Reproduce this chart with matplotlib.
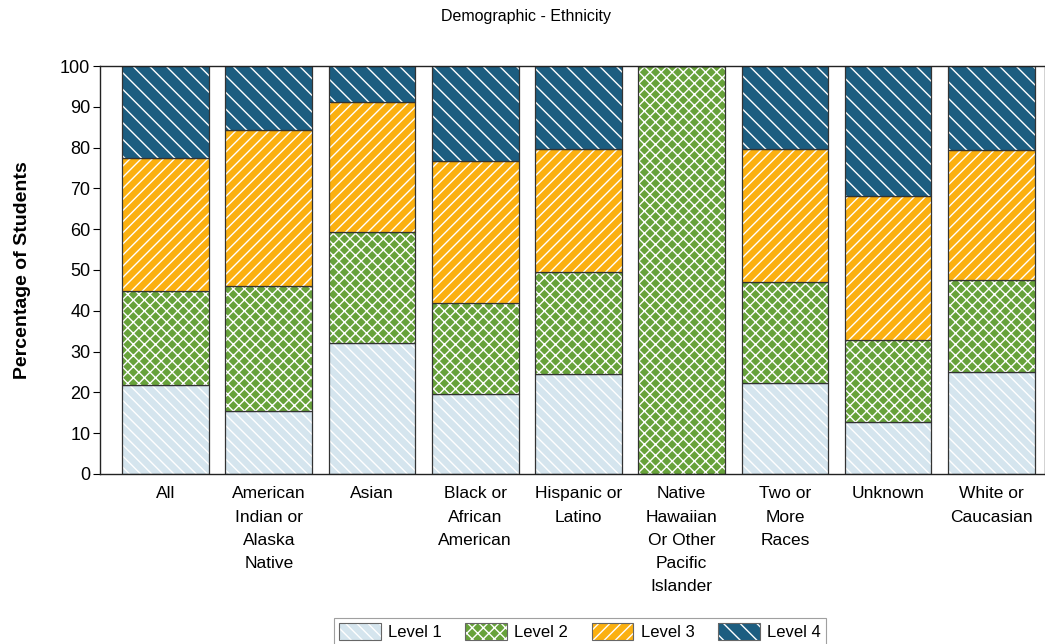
import matplotlib.pyplot as plt
from matplotlib.patches import Patch
from matplotlib.legend_handler import HandlerTuple
import numpy as np

plt.rcParams['font.family'] = ['Liberation Sans', 'DejaVu Sans']
plt.rcParams['hatch.linewidth'] = 1.0

# Datos (porcentaje de estudiantes por nivel)
categorias = ['All', 'American\nIndian or\nAlaska\nNative', 'Asian',
              'Black or\nAfrican\nAmerican', 'Hispanic or\nLatino',
              'Native\nHawaiian\nOr Other\nPacific\nIslander',
              'Two or\nMore\nRaces', 'Unknown', 'White or\nCaucasian']
nivel_1 = [21.8, 15.4, 32.1, 19.6, 24.5, 0.0, 22.3, 12.7, 25.0]
nivel_2 = [23.1, 30.7, 27.3, 22.3, 25.0, 100.0, 24.8, 20.1, 22.5]
nivel_3 = [32.6, 38.2, 31.8, 34.8, 30.2, 0.0, 32.5, 35.4, 32.0]
nivel_4 = [22.5, 15.7, 8.8, 23.3, 20.3, 0.0, 20.4, 31.8, 20.5]
niveles = ['Level 1', 'Level 2', 'Level 3', 'Level 4']

colores = ['#d5e5ee', '#67a23a', '#fbb010', '#1c5d80']
tramas = ['\\\\\\', 'xxx', '///', '\\\\']

fig = plt.figure(figsize=(10.45, 6.44), dpi=100)
ax = fig.add_axes([0.0957, 0.264, 0.9043, 0.6335])

x = np.arange(len(categorias))
ancho = 0.84
base = np.zeros(len(categorias))
handles = []
for serie, color, trama, nombre in zip([nivel_1, nivel_2, nivel_3, nivel_4], colores, tramas, niveles):
    valores = np.array(serie)
    # relleno, trama blanca y borde por separado
    ax.bar(x, valores, ancho, bottom=base, color=color, linewidth=0)
    ax.bar(x, valores, ancho, bottom=base, fill=False, hatch=trama, edgecolor='white', linewidth=0)
    ax.bar(x, valores, ancho, bottom=base, fill=False, edgecolor='#333333', linewidth=0.9)
    base = base + valores
    handles.append((Patch(facecolor=color, hatch=trama, edgecolor='white', linewidth=0),
                    Patch(fill=False, edgecolor='#666666', linewidth=0.8)))

ax.set_xlim(-0.635, 8.52)
ax.set_ylim(0, 100)
ax.set_yticks(np.arange(0, 101, 10))
ax.set_xticks(x)
ax.set_xticklabels(categorias, fontsize=12.5, linespacing=1.67, va='top')
ax.tick_params(axis='x', length=0, pad=9)
ax.tick_params(axis='y', length=5, labelsize=13, pad=2)
for lado in ax.spines.values():
    lado.set_linewidth(1.0)
    lado.set_color('#222222')

ax.set_ylabel('Percentage of Students', fontsize=14, fontweight='bold', labelpad=21)
fig.text(0.503, 0.975, 'Demographic - Ethnicity', ha='center', va='center', fontsize=11.5)

leg = fig.legend(handles, niveles, loc='lower center', bbox_to_anchor=(0.555, -0.015), ncol=4,
                 handler_map={tuple: HandlerTuple(ndivide=1)}, fontsize=12,
                 frameon=True, fancybox=False, edgecolor='#888888', handlelength=2.5,
                 handleheight=1.2, columnspacing=1.4, handletextpad=0.45, borderpad=0.3,
                 borderaxespad=0.5)
leg.get_frame().set_linewidth(0.8)

plt.savefig('out.png', dpi=100)
